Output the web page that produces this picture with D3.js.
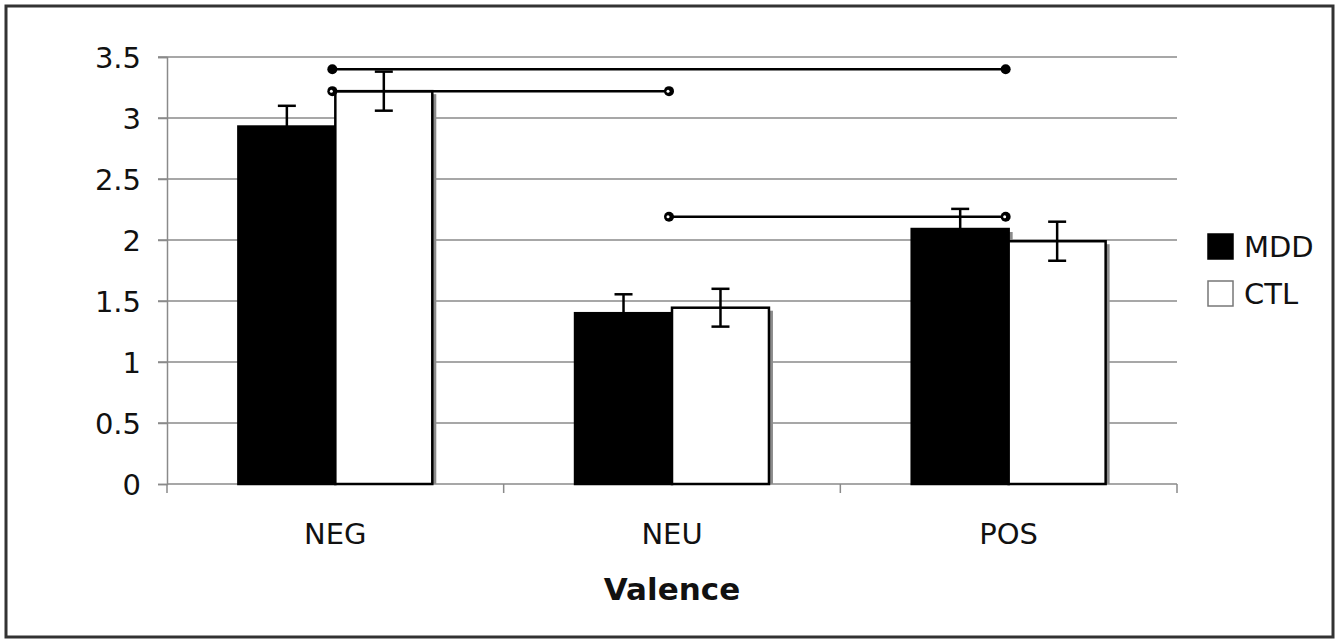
<!DOCTYPE html>
<html>
<head>
<meta charset="utf-8">
<script src="https://cdn.jsdelivr.net/npm/d3@7"></script>
<style>
  html, body { margin: 0; padding: 0; background: #fff; }
  svg { display: block; font-family: "DejaVu Sans", Verdana, sans-serif; }
</style>
</head>
<body>
<div id="chart"></div>
<script>
// Données
const categories = ['NEG', 'NEU', 'POS'];
const seriesNames = ['MDD', 'CTL'];
const mddValues = [2.93, 1.40, 2.09];
const mddErrors = [0.17, 0.155, 0.165];
const ctlValues = [3.22, 1.445, 1.99];
const ctlErrors = [0.16, 0.155, 0.16];
const yTicks = [0, 0.5, 1, 1.5, 2, 2.5, 3, 3.5];
const comparisons = [
  { from: 'NEG', to: 'POS', value: 3.40, filled: true },
  { from: 'NEG', to: 'NEU', value: 3.22, filled: false },
  { from: 'NEU', to: 'POS', value: 2.19, filled: false }
];
const xTitle = 'Valence';

const width = 1342, height = 639;
const plot = { left: 167, right: 1177, top: 57, bottom: 484 };

const svg = d3.select('#chart').append('svg')
  .attr('width', width)
  .attr('height', height);

// Cadre extérieur
svg.append('rect')
  .attr('x', 6).attr('y', 6)
  .attr('width', 1327).attr('height', 631)
  .style('fill', '#fff')
  .style('stroke', '#333')
  .style('stroke-width', 3);

const x0 = d3.scaleBand()
  .domain(categories)
  .range([plot.left, plot.right])
  .paddingInner(0.424)
  .paddingOuter(0.212);

const x1 = d3.scaleBand()
  .domain(seriesNames)
  .range([0, x0.bandwidth()]);

const y = d3.scaleLinear()
  .domain([0, 3.5])
  .range([plot.bottom, plot.top]);

// Grille horizontale
svg.append('g')
  .selectAll('line')
  .data(yTicks.filter(d => d > 0))
  .enter().append('line')
  .attr('x1', plot.left - 9)
  .attr('x2', plot.right)
  .attr('y1', d => y(d))
  .attr('y2', d => y(d))
  .style('stroke', '#8a8a8a')
  .style('stroke-width', 1.5);

// Axe Y
const yAxis = svg.append('g')
  .attr('transform', `translate(${plot.left},0)`)
  .call(d3.axisLeft(y).tickValues(yTicks).tickSize(9).tickPadding(17).tickFormat(d3.format('')));
yAxis.select('.domain').style('stroke', '#8a8a8a').style('stroke-width', 1.5);
yAxis.selectAll('.tick line').style('stroke', '#8a8a8a').style('stroke-width', 1.5);
yAxis.selectAll('.tick text')
  .style('font-family', '"DejaVu Sans", Verdana, sans-serif')
  .style('font-size', '29px')
  .style('fill', '#111')
  .attr('dy', '0.36em');

// Axe X
const xAxis = svg.append('g')
  .attr('transform', `translate(0,${plot.bottom})`);
xAxis.append('line')
  .attr('x1', plot.left).attr('x2', plot.right)
  .attr('y1', 0).attr('y2', 0)
  .style('stroke', '#8a8a8a')
  .style('stroke-width', 1.5);
const step = x0.step();
xAxis.selectAll('line.tick')
  .data(d3.range(categories.length + 1))
  .enter().append('line')
  .attr('class', 'tick')
  .attr('x1', i => plot.left + i * step)
  .attr('x2', i => plot.left + i * step)
  .attr('y1', 0).attr('y2', 9)
  .style('stroke', '#8a8a8a')
  .style('stroke-width', 1.5);
xAxis.selectAll('text')
  .data(categories)
  .enter().append('text')
  .attr('x', d => x0(d) + x0.bandwidth() / 2)
  .attr('y', 60)
  .style('text-anchor', 'middle')
  .style('font-size', '29px')
  .style('fill', '#111')
  .text(d => d);

svg.append('text')
  .attr('x', 672)
  .attr('y', 600)
  .style('text-anchor', 'middle')
  .style('font-size', '31px')
  .style('font-weight', 'bold')
  .style('fill', '#111')
  .text(xTitle);

// Données des barres
const bars = [];
categories.forEach((c, i) => {
  bars.push({ cat: c, series: 'MDD', value: mddValues[i], err: mddErrors[i] });
  bars.push({ cat: c, series: 'CTL', value: ctlValues[i], err: ctlErrors[i] });
});

// Ombres grises à droite des barres
svg.append('g')
  .selectAll('rect')
  .data(bars)
  .enter().append('rect')
  .attr('x', d => x0(d.cat) + x1(d.series) + x1.bandwidth())
  .attr('y', d => y(d.value) + 3)
  .attr('width', 4)
  .attr('height', d => plot.bottom - y(d.value) - 3)
  .style('fill', '#8c8c8c');

// Barres
svg.append('g')
  .selectAll('rect')
  .data(bars)
  .enter().append('rect')
  .attr('x', d => x0(d.cat) + x1(d.series))
  .attr('y', d => y(d.value))
  .attr('width', x1.bandwidth())
  .attr('height', d => plot.bottom - y(d.value))
  .style('fill', d => d.series === 'MDD' ? '#000' : '#fff')
  .style('stroke', '#000')
  .style('stroke-width', 2.5);

// Barres d'erreur
const errG = svg.append('g')
  .selectAll('g')
  .data(bars)
  .enter().append('g')
  .attr('transform', d => `translate(${x0(d.cat) + x1(d.series) + x1.bandwidth() / 2},0)`);
errG.append('line')
  .attr('x1', 0).attr('x2', 0)
  .attr('y1', d => y(d.value + d.err))
  .attr('y2', d => y(d.value - d.err))
  .style('stroke', '#000')
  .style('stroke-width', 2.5);
errG.selectAll('line.cap')
  .data(d => [d.value + d.err, d.value - d.err])
  .enter().append('line')
  .attr('class', 'cap')
  .attr('x1', -9).attr('x2', 9)
  .attr('y1', v => y(v))
  .attr('y2', v => y(v))
  .style('stroke', '#000')
  .style('stroke-width', 2.5);

// Lignes de comparaison
const compX = c => x0(c) + x1.bandwidth() - 3;
const comp = svg.append('g')
  .selectAll('g')
  .data(comparisons)
  .enter().append('g');
comp.append('line')
  .attr('x1', d => compX(d.from))
  .attr('x2', d => compX(d.to))
  .attr('y1', d => y(d.value))
  .attr('y2', d => y(d.value))
  .style('stroke', '#000')
  .style('stroke-width', 2.5);
comp.each(function(d) {
  const g = d3.select(this);
  [d.from, d.to].forEach(c => {
    g.append('circle')
      .attr('cx', compX(c))
      .attr('cy', y(d.value))
      .attr('r', 5)
      .style('fill', '#000');
    if (!d.filled) {
      g.append('circle')
        .attr('cx', compX(c) - 1)
        .attr('cy', y(d.value))
        .attr('r', 1.5)
        .style('fill', '#fff');
    }
  });
});

// Légende
const legend = svg.append('g')
  .selectAll('g')
  .data(seriesNames)
  .enter().append('g')
  .attr('transform', (d, i) => `translate(1208,${234 + i * 47})`);
legend.append('rect')
  .attr('width', 25).attr('height', 25)
  .style('fill', d => d === 'MDD' ? '#000' : '#fff')
  .style('stroke', d => d === 'MDD' ? '#000' : '#777')
  .style('stroke-width', 1.5);
legend.append('text')
  .attr('x', 36)
  .attr('y', 23)
  .style('font-size', '29px')
  .style('fill', '#111')
  .text(d => d);
</script>
</body>
</html>
